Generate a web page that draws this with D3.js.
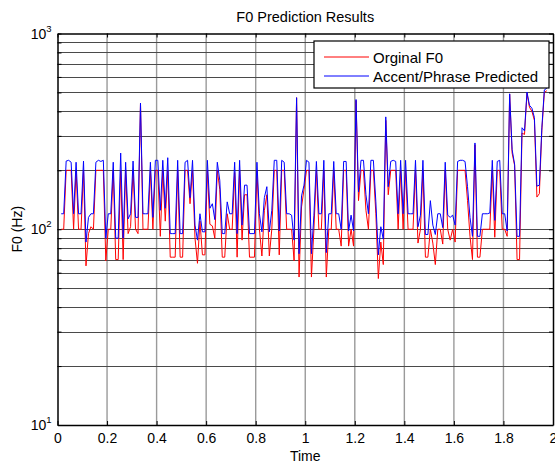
<!DOCTYPE html>
<html>
<head>
<meta charset="utf-8">
<script src="https://cdn.jsdelivr.net/npm/d3@7"></script>
<style>
  body { margin: 0; background: #fff; }
  svg { display: block; font-family: "Liberation Sans", Arial, sans-serif; }
</style>
</head>
<body>
<svg width="555" height="464"></svg>
<script>
const tempoInicial = 0.015;
const passo = 0.01;

const f0Original = [
  100,100,200,200,200,100,200,100,100,200, 65, 95,103,100,200,200,200,200, 69,100,
  100,200, 70, 70,200, 70,200, 95,103,200,100, 95,440,100,100,100,200,100,200,200,
   92,200,110,200, 72, 72, 72,200, 72, 72,200,200,135,200, 90, 67,110, 74, 74,200,
  106,104, 90,200,160, 72, 72,120,100,100,195, 72,200, 88,150,150, 72, 72, 72,200,
  100, 73,125,150, 73,100,200,200, 74,200,200,100,100,100, 69,470, 57,130,160,200,
  200, 57,100,200,100,100,200, 57,100,100,200,100,100, 82,200,200, 82,100, 82,455,
  140,200,200,125,100,200,200,120, 56, 86, 66,360,150,200,200,200,100,200,100,200,
  100,100,100,200, 85,100,200, 72, 72,100, 85, 66,100,100, 84,200,100, 88,100, 86,
  200,200,200,200,140, 92, 70,270, 72, 72,100,100,100,100,200, 91,200,200,100,100,
   92,490,245,212, 70, 70,310,305,495,420,400,360,146,152,320,500,510
];

const f0Predito = [
  120,120,223,225,220,120,220,120,120,223, 86,115,120,120,220,225,222,225, 90,120,
  120,220, 90, 90,245, 90,220,113,120,223,115,115,441,120,120,120,220,115,225,225,
  125,225,128,232, 95, 95, 95,225, 95, 95,220,225,145,225,105, 88,120, 97, 97,225,
  128,135,112,220,178, 95, 95,138,120,120,220, 95,225,105,168,168, 95, 95, 95,220,
  120, 97,145,165, 97,125,225,225, 98,225,220,120,120,118, 88,470, 75,148,168,225,
  220, 75,118,222,120,120,225, 76,120,120,222,120,120,100,222,222, 98,118, 98,460,
  155,225,225,150,120,225,225,138, 74,103, 89,375,165,222,225,222,120,225,120,225,
  120,120,120,225,103,118,225, 94, 94,140,105, 94,120,120,102,220,118,115,118,105,
  222,225,225,222,165,115, 92,276, 92, 92,120,120,120,121,225,111,222,225,120,120,
   98,492,255,215, 92, 92,330,318,502,430,415,372,166,168,330,515,525
];

const xTicks = [0, 0.2, 0.4, 0.6, 0.8, 1, 1.2, 1.4, 1.6, 1.8, 2];
const yDecadas = [10, 100, 1000];
const yMenores = [20, 30, 40, 50, 60, 70, 80, 90, 200, 300, 400, 500, 600, 700, 800, 900];
const nomesSeries = ["Orginal F0", "Accent/Phrase Predicted"];
const coresSeries = ["#ff0000", "#0000ff"];

const svg = d3.select("svg");
const esq = 57.5, dir = 553, topo = 33.5, base = 425;

const x = d3.scaleLinear().domain([0, 2]).range([esq, dir]);
const y = d3.scaleLog().domain([10, 1000]).range([base, topo]);

// grade vertical
svg.append("g").selectAll("line")
  .data(xTicks.slice(1, -1))
  .join("line")
    .attr("x1", d => x(d)).attr("x2", d => x(d))
    .attr("y1", topo).attr("y2", base)
    .attr("stroke", "#9a9a9a").attr("stroke-width", 1.4);

// grade horizontal (inclui as menores)
svg.append("g").selectAll("line")
  .data(yMenores.concat([100]))
  .join("line")
    .attr("x1", esq).attr("x2", dir)
    .attr("y1", d => Math.round(y(d)) + 0.5).attr("y2", d => Math.round(y(d)) + 0.5)
    .attr("stroke", "#4a4a4a").attr("stroke-width", 1);

// linhas
const dados = [f0Original, f0Predito].map(serie =>
  serie.map((v, i) => ({ t: tempoInicial + i * passo, v })));

svg.append("clipPath").attr("id", "recorte")
  .append("rect").attr("x", esq).attr("y", topo).attr("width", dir - esq).attr("height", base - topo);

const linha = d3.line().x(d => x(d.t)).y(d => y(d.v));

svg.append("g").attr("clip-path", "url(#recorte)")
  .selectAll("path")
  .data(dados)
  .join("path")
    .attr("d", linha)
    .attr("fill", "none")
    .attr("stroke", (d, i) => coresSeries[i])
    .attr("stroke-width", 1);

// eixos estilo matlab
const eixoBaixo = svg.append("g").attr("transform", `translate(0,${base})`)
  .call(d3.axisBottom(x).tickValues(xTicks).tickFormat(d3.format("")).tickSizeInner(-4).tickSizeOuter(0).tickPadding(8));
const eixoTopo = svg.append("g").attr("transform", `translate(0,${topo})`)
  .call(d3.axisTop(x).tickValues(xTicks).tickFormat("").tickSizeInner(-4).tickSizeOuter(0));
const eixoEsq = svg.append("g").attr("transform", `translate(${esq},0)`)
  .call(d3.axisLeft(y).tickValues(yDecadas.concat(yMenores)).tickFormat("").tickSizeInner(-4).tickSizeOuter(0));
const eixoDir = svg.append("g").attr("transform", `translate(${dir},0)`)
  .call(d3.axisRight(y).tickValues(yDecadas.concat(yMenores)).tickFormat("").tickSizeInner(-4).tickSizeOuter(0));

[eixoBaixo, eixoTopo, eixoEsq, eixoDir].forEach(g => {
  g.select(".domain").attr("stroke", "#000").attr("stroke-width", 1.5);
  g.selectAll(".tick line").attr("stroke", "#000");
});
eixoBaixo.selectAll("text").attr("font-size", 14).attr("fill", "#000")
  .attr("font-family", "Liberation Sans, Arial, sans-serif");

// rotulos 10^n
const rotY = svg.append("g").selectAll("text")
  .data(yDecadas)
  .join("text")
    .attr("x", esq - 6)
    .attr("y", d => y(d) + 5)
    .attr("text-anchor", "end")
    .attr("font-size", 14);
rotY.append("tspan").text("10");
rotY.append("tspan").attr("dy", -7).attr("font-size", 9.5).text(d => Math.round(Math.log10(d)));

svg.append("text")
  .attr("x", (esq + dir) / 2).attr("y", 22)
  .attr("text-anchor", "middle").attr("font-size", 14.5)
  .text("F0 Prediction Results");

svg.append("text")
  .attr("x", (esq + dir) / 2).attr("y", 461)
  .attr("text-anchor", "middle").attr("font-size", 14)
  .text("Time");

svg.append("text")
  .attr("transform", `translate(22,${(topo + base) / 2}) rotate(-90)`)
  .attr("text-anchor", "middle").attr("font-size", 14)
  .text("F0 (Hz)");

// legenda
const legenda = svg.append("g").attr("transform", "translate(314,41)");
legenda.append("rect")
  .attr("width", 235).attr("height", 47)
  .attr("fill", "#fff").attr("stroke", "#000").attr("stroke-width", 1.2);
const itens = legenda.selectAll("g.item")
  .data(nomesSeries)
  .join("g").attr("class", "item")
    .attr("transform", (d, i) => `translate(0,${16 + i * 19})`);
itens.append("line")
  .attr("x1", 10).attr("x2", 55)
  .attr("stroke", (d, i) => coresSeries[i]).attr("stroke-width", 1);
itens.append("text")
  .attr("x", 59).attr("y", 5.5)
  .attr("font-size", 15)
  .text(d => d);
</script>
</body>
</html>
